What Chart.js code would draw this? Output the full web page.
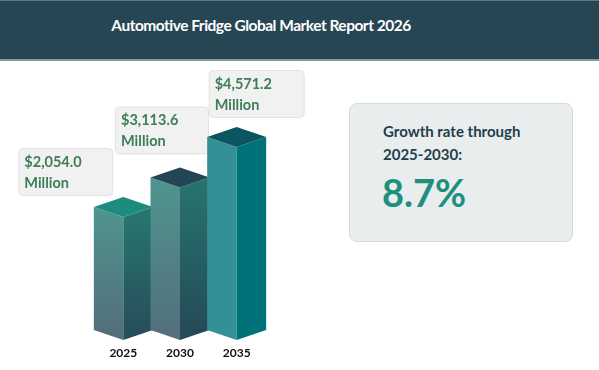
<!DOCTYPE html>
<html>
<head>
<meta charset="utf-8">
<script src="https://cdn.jsdelivr.net/npm/chart.js@4.4.1/dist/chart.umd.min.js"></script>
<style>
  html, body { margin: 0; padding: 0; background: #fff; }
  #wrap { position: relative; width: 599px; height: 370px; overflow: hidden; font-family: Lato, "Open Sans", sans-serif; }
  #header { position: absolute; left: 0; top: 0; width: 599px; height: 58px; background: #264654; border-top: 1px solid #5f7a85; border-bottom: 2px solid #8399a1; }
  #title { position: absolute; left: 0; top: 0; width: 522px; line-height: 48px; text-align: center; color: #fff; font-weight: 700; font-size: 15.5px; letter-spacing: -0.5px; }
  #card { position: absolute; left: 349px; top: 103px; width: 224px; height: 139px; box-sizing: border-box; background: #e9edee; border: 1px solid #d5dadc; border-radius: 8px; }
  #card .lbl { position: absolute; left: 33px; top: 16px; line-height: 23px; font-size: 15px; font-weight: 700; color: #1f3f4b; }
  #card .rate { position: absolute; left: 32px; top: 69px; line-height: 38px; font-size: 38px; font-weight: 700; color: #1f8f7e; }
  canvas { position: absolute; left: 0; top: 0; }
</style>
</head>
<body>
<div id="wrap">
  <div id="header"><div id="title">Automotive Fridge Global Market Report 2026</div></div>
  <div id="card">
    <div class="lbl">Growth rate through<br>2025-2030:</div>
    <div class="rate">8.7%</div>
  </div>
  <canvas id="market-chart" width="599" height="370"></canvas>
</div>
<script>
const years = ['2025', '2030', '2035'];
const marketValues = [2054.0, 3113.6, 4571.2];

// value axis does not start at zero in the original graphic
const Y_MIN = -2370;
const Y_MAX = 5900;

// colours for each prism: left face gradient, right face gradient, top
const prismColors = [
  { left: ['#4f958e', '#52707b'], right: ['#27786f', '#274f5b'], top: '#1b8c7d' },
  { left: ['#4f958f', '#53717c'], right: ['#26756f', '#264b58'], top: '#244654' },
  { left: ['#358f97', '#358f97'], right: ['#007279', '#007279'], top: '#0b5560' }
];

// value callouts: offset of box from bar centre / bar top
const calloutOffsets = [
  { dx: -105, dy: -12, w: 94 },
  { dx: -65, dy: -24, w: 93 },
  { dx: -28, dy: -20, w: 95 }
];

function formatValue(v) {
  return '$' + v.toLocaleString('en-US', { minimumFractionDigits: 1, maximumFractionDigits: 1 });
}

const prismPlugin = {
  id: 'prism',
  afterDatasetsDraw(chart) {
    const ctx = chart.ctx;
    const meta = chart.getDatasetMeta(0);
    const depth = 10;
    meta.data.forEach((bar, i) => {
      const { x, y, base, width } = bar.getProps(['x', 'y', 'base', 'width'], true);
      const hw = width / 2;
      const c = prismColors[i];

      ctx.save();
      let g = ctx.createLinearGradient(0, y, 0, base);
      g.addColorStop(0, c.left[0]);
      g.addColorStop(1, c.left[1]);
      ctx.fillStyle = g;
      ctx.beginPath();
      ctx.moveTo(x - hw, y);
      ctx.lineTo(x, y + depth);
      ctx.lineTo(x, base + depth);
      ctx.lineTo(x - hw, base);
      ctx.closePath();
      ctx.fill();

      g = ctx.createLinearGradient(0, y, 0, base);
      g.addColorStop(0, c.right[0]);
      g.addColorStop(1, c.right[1]);
      ctx.fillStyle = g;
      ctx.beginPath();
      ctx.moveTo(x, y + depth);
      ctx.lineTo(x + hw, y);
      ctx.lineTo(x + hw, base);
      ctx.lineTo(x, base + depth);
      ctx.closePath();
      ctx.fill();

      ctx.fillStyle = c.top;
      ctx.beginPath();
      ctx.moveTo(x - hw, y);
      ctx.lineTo(x, y - depth);
      ctx.lineTo(x + hw, y);
      ctx.lineTo(x, y + depth);
      ctx.closePath();
      ctx.fill();

      // callout box
      const o = calloutOffsets[i];
      const bx = x + o.dx;
      const by = y + o.dy - 47;
      ctx.fillStyle = '#f1f1f1';
      ctx.strokeStyle = '#e3e3e3';
      ctx.lineWidth = 1;
      ctx.beginPath();
      ctx.roundRect(bx + 0.5, by + 0.5, o.w, 47, 4);
      ctx.fill();
      ctx.stroke();

      ctx.fillStyle = '#3d7e56';
      ctx.font = 'bold 14.5px Lato, "Open Sans", sans-serif';
      ctx.textBaseline = 'middle';
      ctx.textAlign = 'left';
      ctx.fillText(formatValue(marketValues[i]), bx + 6, by + 14);
      ctx.fillText('Million', bx + 6, by + 35);
      ctx.restore();
    });
  }
};

const chart = new Chart(document.getElementById('market-chart'), {
  type: 'bar',
  data: {
    labels: years,
    datasets: [{
      data: marketValues,
      base: Y_MIN,
      backgroundColor: 'rgba(0,0,0,0)',
      barThickness: 59
    }]
  },
  options: {
    responsive: false,
    animation: false,
    layout: { padding: { left: 95, right: 334, top: 100, bottom: 0 } },
    plugins: { legend: { display: false }, tooltip: { enabled: false } },
    scales: {
      x: {
        grid: { display: false, drawTicks: false },
        border: { display: false },
        ticks: {
          padding: 16,
          color: '#111',
          font: { family: 'Lato', weight: 'bold', size: 12 }
        },
        afterFit(scale) { scale.height = 40; }
      },
      y: {
        display: false,
        min: Y_MIN,
        max: Y_MAX
      }
    }
  },
  plugins: [prismPlugin]
});
</script>
</body>
</html>
